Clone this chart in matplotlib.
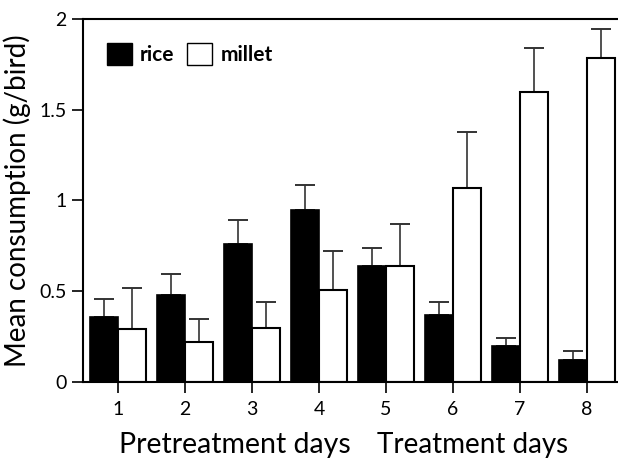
import matplotlib
matplotlib.use("Agg")
import matplotlib.pyplot as plt
from matplotlib.patches import Patch
import numpy as np

days = [1, 2, 3, 4, 5, 6, 7, 8]
day_labels = ["1", "2", "3", "4", "5", "6", "7", "8"]
rice = [0.36, 0.48, 0.76, 0.945, 0.637, 0.37, 0.20, 0.121]
rice_err = [0.097, 0.117, 0.13, 0.142, 0.10, 0.073, 0.044, 0.05]
millet = [0.29, 0.22, 0.30, 0.507, 0.637, 1.067, 1.60, 1.783]
millet_err = [0.23, 0.125, 0.14, 0.216, 0.235, 0.31, 0.238, 0.162]

plt.rcParams['font.family'] = ['Lato', 'DejaVu Sans']

fig = plt.figure(figsize=(6.18, 4.58), dpi=100)
ax = fig.add_axes([0.134, 0.166, 0.866, 0.7925])

x = np.array(days, dtype=float)
w = 0.42
ax.bar(x - w/2, rice, width=w, color='black', edgecolor='black', linewidth=1.2, zorder=2)
ax.bar(x + w/2, millet, width=w, color='white', edgecolor='black', linewidth=1.5, zorder=2)
ax.errorbar(x - w/2, rice, yerr=[np.zeros(len(rice)), rice_err], fmt='none',
            ecolor='#333333', elinewidth=1.2, capsize=7, capthick=1.4, zorder=1)
ax.errorbar(x + w/2, millet, yerr=[np.zeros(len(millet)), millet_err], fmt='none',
            ecolor='#333333', elinewidth=1.2, capsize=7, capthick=1.4, zorder=1)

ax.set_xlim(0.478, 8.46)
ax.set_ylim(0, 2)
ax.set_yticks([0, 0.5, 1, 1.5, 2])
ax.set_yticklabels(["0", "0.5", "1", "1.5", "2"], fontsize=14)
ax.set_xticks(x)
ax.set_xticklabels(day_labels, fontsize=14)
ax.tick_params(axis='both', direction='out', length=8, width=1.2, color='black')
ax.tick_params(axis='x', pad=6)
ax.spines['right'].set_visible(False)
for s in ['left', 'top', 'bottom']:
    ax.spines[s].set_linewidth(1.5)

ax.set_ylabel("Mean consumption (g/bird)", fontsize=20, labelpad=6)
fig.text(0.38, 0.028, "Pretreatment days", fontsize=20.5, ha='center', va='center')
fig.text(0.765, 0.028, "Treatment days", fontsize=20, ha='center', va='center')

handles = [Patch(facecolor='black', edgecolor='black', label='rice'),
           Patch(facecolor='white', edgecolor='black', label='millet')]
leg = ax.legend(handles=handles, loc='upper left', bbox_to_anchor=(0.01, 0.985), ncol=2,
                frameon=False, handlelength=1.2, handleheight=1.2, handletextpad=0.4,
                columnspacing=0.6, prop={'weight': 'bold', 'size': 15})

fig.savefig("out.png", dpi=100)
